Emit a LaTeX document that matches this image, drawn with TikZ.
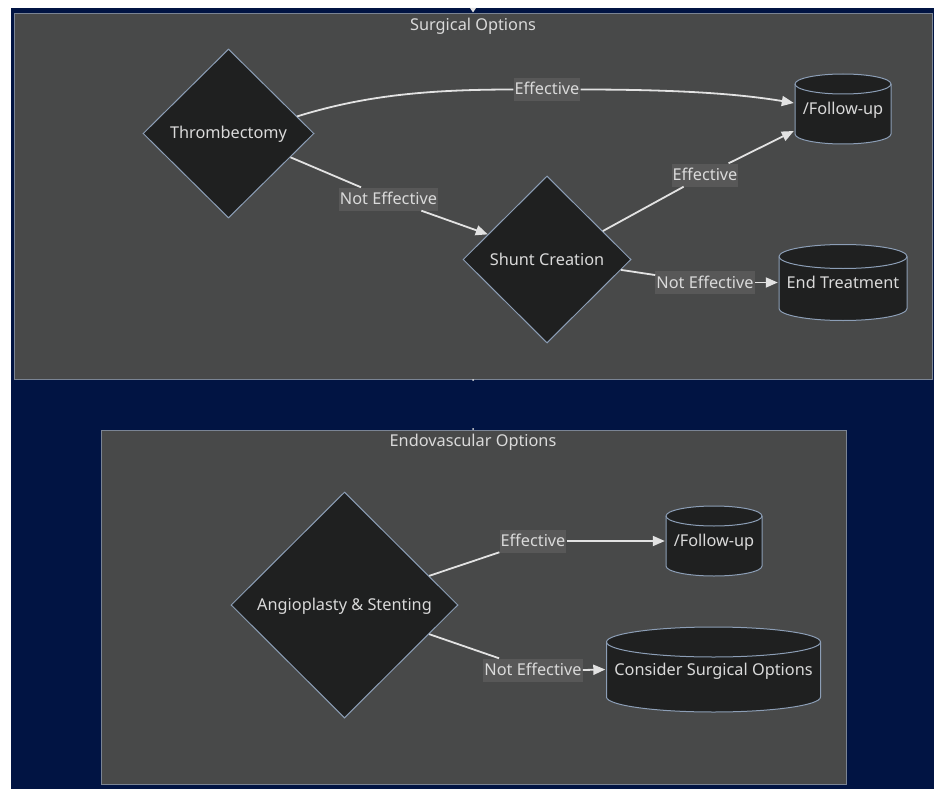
\documentclass[tikz,border=0pt]{standalone}
\usepackage{fontspec}
\setmainfont{Noto Sans}
\usetikzlibrary{shapes.geometric,arrows.meta}
\definecolor{navy}{RGB}{1,20,67}
\definecolor{clfill}{RGB}{72,73,73}
\definecolor{clborder}{RGB}{122,132,148}
\definecolor{nodefill}{RGB}{31,32,32}
\definecolor{nodeborder}{RGB}{140,158,182}
\definecolor{edgec}{RGB}{226,226,226}
\definecolor{lblbg}{RGB}{88,88,88}
\definecolor{txtc}{RGB}{218,218,218}
\begin{document}
\begin{tikzpicture}[x=1pt,y=-1pt,
  every node/.style={font=\fontsize{16.3}{19}\selectfont, text=txtc, text height=11pt, text depth=0pt},
  decision/.style={diamond, aspect=1, draw=nodeborder, fill=nodefill, line width=1pt, inner sep=0pt},
  lbl/.style={fill=lblbg, inner xsep=1pt, inner ysep=6pt},
  edge/.style={draw=edgec, line width=1.8pt},
  arr/.style={edge, -{Triangle[length=12pt,width=10pt]}},
  cluster/.style={fill=clfill, draw=clborder, line width=1pt},
  cyl/.style n args={3}{rectangle, inner sep=0pt,
    minimum width={(2*#1+2)*1pt}, minimum height={(2*#2+2)*1pt},
    path picture={
      \filldraw[fill=nodefill, draw=nodeborder, line width=1pt]
        ([xshift=1pt,yshift={-(#3+1)*1pt}]path picture bounding box.north west)
        -- ([xshift=1pt,yshift={(#3+1)*1pt}]path picture bounding box.south west)
        arc[start angle=180,end angle=360,x radius={#1*1pt},y radius={#3*1pt}]
        -- ([xshift=-1pt,yshift={-(#3+1)*1pt}]path picture bounding box.north east)
        arc[start angle=0,end angle=180,x radius={#1*1pt},y radius={#3*1pt}]
        -- cycle;
      \draw[nodeborder, line width=1pt]
        ([xshift=1pt,yshift={-(#3+1)*1pt}]path picture bounding box.north west)
        arc[start angle=180,end angle=360,x radius={#1*1pt},y radius={#3*1pt}];
    }}
]
\useasboundingbox (0,0) rectangle (934,789);
\fill[white] (0,0) rectangle (934,789);
\fill[navy] (11,8) rectangle (934,789);

% clusters
\draw[cluster] (14.5,13.5) rectangle (932,379);
\draw[cluster] (101.5,430) rectangle (846,784);
\node (tsurg) at (473,25) {Surgical Options};
\node (tendo) at (473,441) {Endovascular Options};

% small marks between clusters
\fill[edgec] (470,8) -- (476,8) -- (473,12.5) -- cycle;
\fill[edgec] (473,380) circle (1pt);
\fill[edgec] (473,429) circle (1pt);

% nodes
\node[decision, minimum width=171pt, minimum height=169pt] (thr) at (228.5,133.5) {Thrombectomy};
\node[decision, minimum width=168pt, minimum height=167pt] (sh) at (547,259.5) {Shunt Creation};
\node[decision, minimum width=227pt, minimum height=226pt] (ang) at (344.5,605) {Angioplasty \& Stenting};

\node[cyl={48}{35}{10}] (fu1) at (843,109) {/Follow-up};
\node[cyl={64}{38}{12}] (endt) at (843,282.5) {End Treatment};
\node[cyl={48}{35}{10}] (fu2) at (714,541) {/Follow-up};
\node[cyl={107}{42.5}{15}] (cons) at (713.5,669.5) {Consider Surgical Options};

% edge labels
\node[lbl] (l1) at (547,89.5) {Effective};
\node[lbl] (l2) at (388.5,199) {Not Effective};
\node[lbl] (l3) at (705,175) {Effective};
\node[lbl] (l4) at (705,282.5) {Not Effective};
\node[lbl] (l5) at (533,541) {Effective};
\node[lbl] (l6) at (533,670) {Not Effective};

% edges
\draw[edge] (thr.14) .. controls (360,97) and (420,89.5) .. (l1.west);
\draw[arr] (l1.east) .. controls (680,89.5) and (740,94) .. ([yshift=6pt]fu1.west);

\draw[edge] (thr.-21) -- (l2);
\draw[arr] (l2) -- (sh.157);

\draw[edge] (sh.27) -- (l3);
\draw[arr] (l3) -- ([yshift=-22pt]fu1.west);

\draw[edge] (sh.-8) -- (l4);
\draw[arr] (l4.east) -- (endt.west);

\draw[edge] (ang.19) -- (l5);
\draw[arr] (l5.east) -- (fu2.west);

\draw[edge] (ang.-19) -- (l6);
\draw[arr] (l6.east) -- (cons.west);
\end{tikzpicture}
\end{document}
